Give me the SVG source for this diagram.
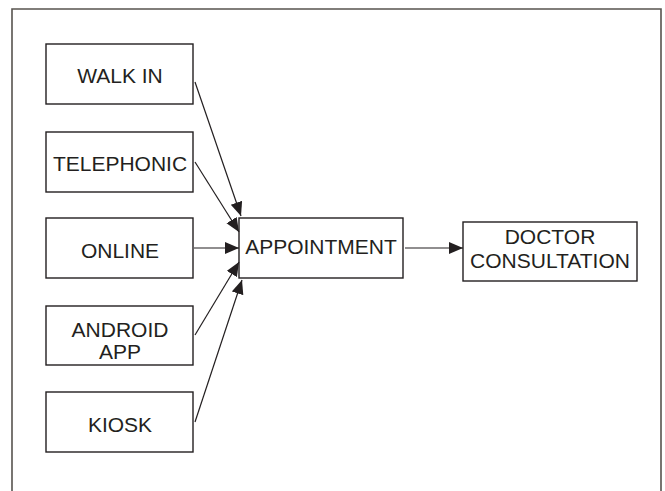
<svg xmlns="http://www.w3.org/2000/svg" width="665" height="491" viewBox="0 0 665 491">
<style>
.box{fill:#fff;stroke:#231f20;stroke-width:1.4}
.t{font-family:"Liberation Sans",Arial,sans-serif;font-size:21px;fill:#231f20;text-anchor:middle}
.c{stroke:#231f20;stroke-width:1.2;fill:none;marker-end:url(#ah)}
</style>
<defs>
<marker id="ah" markerUnits="userSpaceOnUse" markerWidth="15" markerHeight="13" refX="14" refY="6" orient="auto">
<path d="M0,0 L14,6 L0,12 z" fill="#231f20"/>
</marker>
</defs>
<rect width="665" height="491" fill="#fff"/>
<path d="M12,491 V9 H661 V491" fill="none" stroke="#58544f" stroke-width="1.6"/>
<g id="walkin"><rect class="box" x="46" y="44" width="147" height="60"/><text class="t" x="120" y="83">WALK IN</text></g>
<g id="telephonic"><rect class="box" x="46" y="132" width="147" height="60"/><text class="t" x="120" y="171">TELEPHONIC</text></g>
<g id="online"><rect class="box" x="46" y="218" width="147" height="60"/><text class="t" x="120" y="258">ONLINE</text></g>
<g id="android"><rect class="box" x="46" y="306" width="147" height="59"/><text class="t" x="120" y="337">ANDROID</text><text class="t" x="120" y="359">APP</text></g>
<g id="kiosk"><rect class="box" x="46" y="392" width="147" height="60"/><text class="t" x="120" y="432">KIOSK</text></g>
<g id="appointment"><rect class="box" x="239" y="218" width="164" height="60"/><text class="t" x="321" y="254">APPOINTMENT</text></g>
<g id="doctor"><rect class="box" x="463" y="222" width="174" height="59"/><text class="t" x="550" y="244">DOCTOR</text><text class="t" x="550" y="268">CONSULTATION</text></g>
<g id="connectors">
<line class="c" x1="195" y1="82" x2="241" y2="216"/>
<line class="c" x1="195" y1="162" x2="239" y2="232"/>
<line class="c" x1="194" y1="248" x2="239" y2="248"/>
<line class="c" x1="195" y1="335" x2="239" y2="262"/>
<line class="c" x1="195" y1="422" x2="242" y2="280"/>
<line class="c" x1="405" y1="248" x2="463" y2="248"/>
</g>
</svg>
